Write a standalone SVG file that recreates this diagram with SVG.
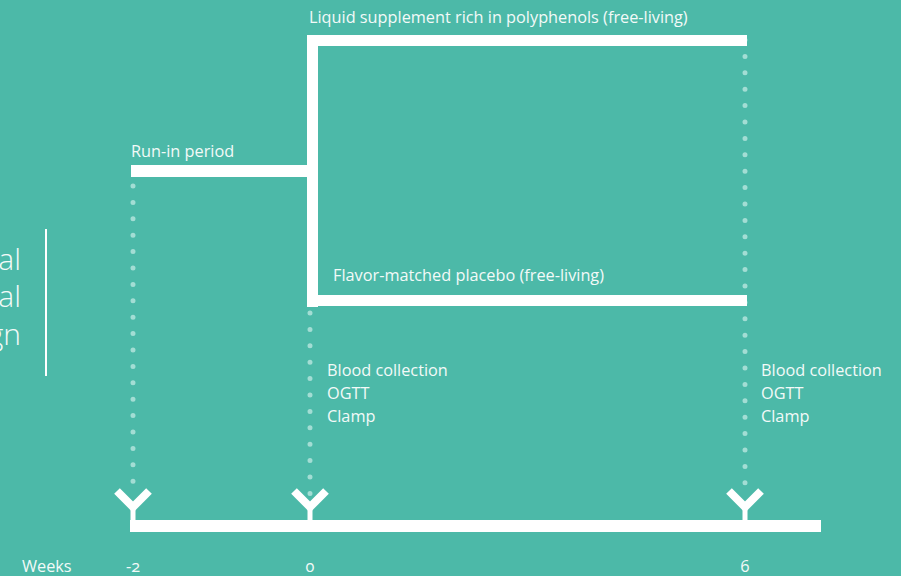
<svg xmlns="http://www.w3.org/2000/svg" width="901" height="576" viewBox="0 0 901 576">
<style>
.t{font-family:"Open Sans","Noto Sans",sans-serif;font-size:16.3px;fill:#f3faf8}
.num{font-variant-numeric:oldstyle-nums;font-feature-settings:"onum" 1}
.big{font-family:"Open Sans","Noto Sans",sans-serif;font-size:30px;font-weight:300;fill:#f3faf8}
.bar{fill:#ffffff}
.dots{stroke:#a3ddd4;stroke-width:5;stroke-linecap:round;stroke-dasharray:0 16.4;fill:none}
.y{stroke:#ffffff;fill:none}
</style>
<rect width="901" height="576" fill="#4cb9a8"/>
<g id="title">
<text class="big" x="21" y="270" text-anchor="end">al</text>
<text class="big" x="21" y="307" text-anchor="end">al</text>
<text class="big" x="21" y="345" text-anchor="end">gn</text>
<rect x="45" y="229" width="2" height="147" class="bar"/>
</g>
<g id="connectors">
<line class="dots" x1="133" y1="186" x2="133" y2="495"/>
<line class="dots" x1="310" y1="313" x2="310" y2="495"/>
<line class="dots" x1="745" y1="40" x2="745" y2="495"/>
</g>
<g id="run-in">
<rect class="bar" x="131" y="165" width="178" height="12"/>
<text class="t" x="131" y="157">Run-in period</text>
</g>
<g id="bracket">
<rect class="bar" x="307" y="35" width="11" height="272"/>
<rect class="bar" x="307" y="35" width="440" height="11"/>
<rect class="bar" x="307" y="295" width="440" height="11"/>
</g>
<g id="supplement">
<text class="t" x="309" y="23">Liquid supplement rich in polyphenols (free-living)</text>
</g>
<g id="placebo">
<text class="t" x="333" y="281">Flavor-matched placebo (free-living)</text>
</g>
<g id="measure0">
<text class="t" x="327" y="376">Blood collection</text>
<text class="t" x="327" y="399">OGTT</text>
<text class="t" x="327" y="422">Clamp</text>
</g>
<g id="measure6">
<text class="t" x="761" y="376">Blood collection</text>
<text class="t" x="761" y="399">OGTT</text>
<text class="t" x="761" y="422">Clamp</text>
</g>
<g id="timeline">
<rect class="bar" x="130" y="520" width="691" height="12"/>
<g id="mark-2">
<polyline class="y" points="117,491 133,507 149,491" stroke-width="8"/>
<line class="y" x1="133" y1="504" x2="133" y2="521" stroke-width="5"/>
</g>
<g id="mark0">
<polyline class="y" points="294,491 310,507 326,491" stroke-width="8"/>
<line class="y" x1="310" y1="504" x2="310" y2="521" stroke-width="5"/>
</g>
<g id="mark6">
<polyline class="y" points="729,491 745,507 761,491" stroke-width="8"/>
<line class="y" x1="745" y1="504" x2="745" y2="521" stroke-width="5"/>
</g>
<text class="t" x="22" y="572" font-size="15">Weeks</text>
<text class="t num" x="133" y="572" text-anchor="middle">-2</text>
<text class="t num" x="310" y="572" text-anchor="middle">0</text>
<text class="t num" x="745" y="572" text-anchor="middle">6</text>
</g>
</svg>
